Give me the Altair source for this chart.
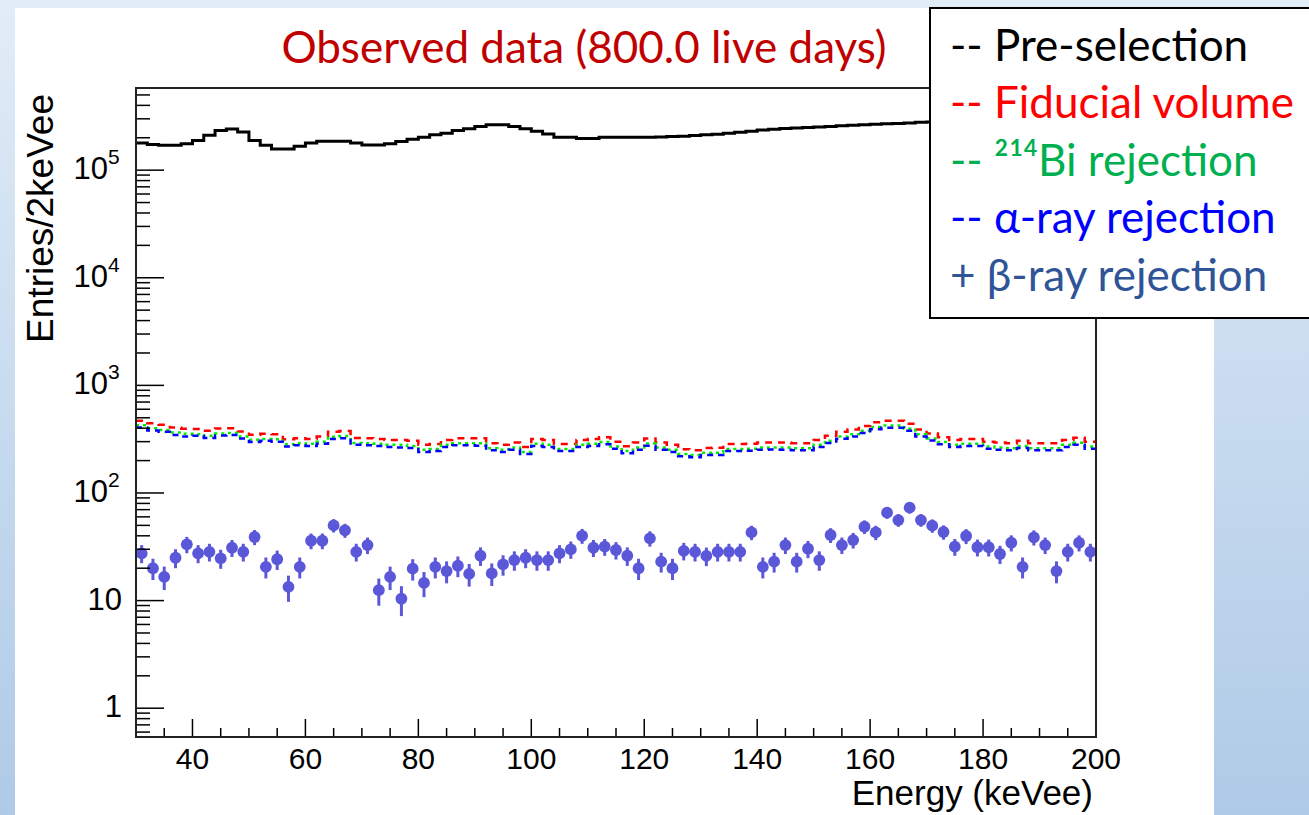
import altair as alt
import pandas as pd

# ---------------- data ----------------
energy = list(range(31, 200, 2))  # 2 keVee bin centres

pre_selection = [1.79e5, 1.73e5, 1.70e5, 1.70e5, 1.76e5, 1.89e5, 2.11e5, 2.33e5, 2.41e5, 2.26e5,
                 1.89e5, 1.70e5, 1.57e5, 1.57e5, 1.67e5, 1.79e5, 1.86e5, 1.86e5, 1.86e5, 1.79e5,
                 1.71e5, 1.71e5, 1.76e5, 1.85e5, 1.94e5, 2.02e5, 2.13e5, 2.20e5, 2.33e5, 2.43e5,
                 2.55e5, 2.64e5, 2.64e5, 2.55e5, 2.43e5, 2.30e5, 2.17e5, 2.02e5, 2.02e5, 1.97e5,
                 1.97e5, 2.02e5, 2.02e5, 2.02e5, 2.02e5, 2.02e5, 2.03e5, 2.05e5, 2.07e5, 2.10e5,
                 2.13e5, 2.16e5, 2.20e5, 2.25e5, 2.30e5, 2.36e5, 2.40e5, 2.44e5, 2.47e5, 2.49e5,
                 2.52e5, 2.55e5, 2.58e5, 2.61e5, 2.64e5, 2.67e5, 2.70e5, 2.72e5, 2.75e5, 2.78e5,
                 2.80e5, 2.82e5, 2.84e5, 2.86e5, 2.88e5, 2.90e5, 2.92e5, 2.94e5, 2.96e5, 2.98e5,
                 3.00e5, 3.02e5, 3.04e5, 3.06e5, 3.08e5]

fiducial = [470, 445, 430, 405, 395, 394, 378, 398, 400, 372, 348, 355, 352, 315, 322, 318, 334,
            370, 376, 325, 322, 318, 311, 311, 305, 280, 285, 311, 322, 322, 322, 290, 280, 294,
            267, 318, 311, 285, 285, 311, 318, 330, 300, 272, 294, 320, 294, 280, 255, 250, 262,
            263, 285, 285, 287, 294, 295, 294, 290, 290, 311, 340, 371, 390, 420, 455, 470, 470,
            440, 390, 357, 330, 311, 318, 318, 300, 294, 290, 305, 290, 290, 290, 311, 326, 300]

bi214 = [425, 400, 385, 365, 355, 352, 340, 357, 360, 335, 312, 318, 316, 283, 290, 286, 300,
         333, 338, 292, 290, 286, 280, 280, 274, 252, 256, 280, 290, 290, 290, 261, 252, 264,
         240, 286, 280, 256, 256, 280, 286, 297, 270, 245, 264, 288, 264, 252, 230, 225, 236,
         237, 256, 256, 258, 264, 265, 264, 261, 261, 280, 306, 334, 351, 378, 410, 423, 423,
         396, 351, 321, 297, 280, 286, 286, 270, 264, 261, 274, 261, 261, 261, 280, 293, 270]

alpha_rej = [405, 380, 370, 345, 335, 340, 325, 342, 345, 320, 298, 305, 300, 270, 277, 273, 287,
             318, 323, 280, 277, 273, 268, 265, 262, 240, 245, 268, 277, 277, 275, 250, 240, 252,
             230, 273, 268, 245, 245, 268, 273, 284, 258, 234, 252, 275, 252, 240, 219, 215, 225,
             226, 245, 245, 247, 252, 253, 252, 249, 249, 267, 292, 319, 335, 361, 391, 404, 404,
             378, 335, 307, 284, 268, 273, 273, 258, 252, 249, 262, 249, 249, 249, 268, 280, 258]

beta_rej = [27.5, 20, 16.6, 25, 33.3, 27.5, 28.4, 24.7, 31, 28.4, 39, 20.6, 24.2, 13.4, 20.6, 36,
            36, 50, 45, 28.4, 32.8, 12.5, 16.6, 10.4, 19.8, 14.6, 20.6, 18.8, 21.1, 17.7, 26.1,
            17.9, 21.7, 23.8, 25, 23.8, 23.8, 27.5, 29.9, 40, 31,
            31.7, 29.5, 26.1, 20, 37.9, 23, 20, 29, 28.4, 26, 28.4, 28.4, 28.4, 43, 20.6, 23,
            32.8, 23, 30.3, 23.8, 40.7, 32.8, 36.5, 48.6, 43, 65.6, 56, 73, 56, 49.7, 43.4, 31.7,
            39.8, 31.3, 31.3, 27.1, 34.5, 20.6, 38.7, 32.8, 18.8, 28.4, 34.5, 28.4]

x_major_ticks = [40, 60, 80, 100, 120, 140, 160, 180, 200]
x_tick_labels = ["40", "60", "80", "100", "120", "140", "160", "180", "200"]
x_minor_ticks = [35, 45, 50, 55, 65, 70, 75, 85, 90, 95, 105, 110, 115, 125, 130, 135,
                 145, 150, 155, 165, 170, 175, 185, 190, 195]
y_major_ticks = [1, 10, 100, 1000, 10000, 100000]
y_minor_ticks = [0.6, 0.7, 0.8, 0.9,
                 2, 3, 4, 5, 6, 7, 8, 9,
                 20, 30, 40, 50, 60, 70, 80, 90,
                 200, 300, 400, 500, 600, 700, 800, 900,
                 2000, 3000, 4000, 5000, 6000, 7000, 8000, 9000,
                 20000, 30000, 40000, 50000, 60000, 70000, 80000, 90000,
                 200000, 300000, 400000, 500000]
y_label_base = ["1", "10", "10", "10", "10", "10"]
y_label_exp = ["", "", "2", "3", "4", "5"]

x_title = "Energy (keVee)"
y_title = "Entries/2keVee"
title_text = "Observed data (800.0 live days)"
legend_labels = ["-- Pre-selection", "-- Fiducial volume", "-- \u00b2\u00b9\u2074Bi rejection",
                 "-- \u03b1-ray rejection", "+ \u03b2-ray rejection"]
legend_colors = ["#000000", "#ff0000", "#00b050", "#0000ff", "#2f5597"]

# ---------------- layout ----------------
W, H = 960, 649
PAD_L, PAD_T = 136, 88
TOTAL_W, TOTAL_H = 1309, 815

yscale = alt.Scale(type="log", domain=[0.54, 5.8e5], nice=False)
xscale = alt.Scale(domain=[30, 200], nice=False)
one = pd.DataFrame({"d": [0]})


def step_df(vals):
    edges = [e - 1 for e in energy] + [200]
    return pd.DataFrame({"E": edges, "N": list(vals) + [vals[-1]]})


# background gradient and white panel
bg = alt.Chart(one).mark_rect(
    fill=alt.LinearGradient(gradient="linear",
                            stops=[alt.GradientStop(color="#e1ecf7", offset=0),
                                   alt.GradientStop(color="#afcae7", offset=1)],
                            x1=0, x2=0, y1=0, y2=1)
).encode(x=alt.value(-PAD_L), x2=alt.value(TOTAL_W - PAD_L),
         y=alt.value(-PAD_T), y2=alt.value(TOTAL_H - PAD_T))

panel = alt.Chart(one).mark_rect(fill="white").encode(
    x=alt.value(15 - PAD_L), x2=alt.value(1214 - PAD_L),
    y=alt.value(8 - PAD_T), y2=alt.value(TOTAL_H - PAD_T))


def hist(vals, color, dash=None, width=2.5):
    kw = dict(interpolate="step-after", color=color, strokeWidth=width)
    if dash:
        kw["strokeDash"] = dash
    return alt.Chart(step_df(vals)).mark_line(**kw).encode(
        x=alt.X("E:Q", scale=xscale, axis=None),
        y=alt.Y("N:Q", scale=yscale, axis=None))


pre = hist(pre_selection, "black", width=3)
fid_line = hist(fiducial, "#ff0000", [7, 6])
bi_line = hist(bi214, "#00ee00", [3, 4])
alpha_line = hist(alpha_rej, "#0000ff", [6, 5])

pts_df = pd.DataFrame({"E": energy, "N": beta_rej})
err = alt.Chart(pts_df).transform_calculate(
    lo="datum.N - sqrt(datum.N)", hi="datum.N + sqrt(datum.N)"
).mark_rule(color="#5b57d9", strokeWidth=3).encode(
    x=alt.X("E:Q", scale=xscale, axis=None),
    y=alt.Y("lo:Q", scale=yscale, axis=None), y2="hi:Q")
pts = alt.Chart(pts_df).mark_circle(size=140, color="#5b57d9", opacity=1).encode(
    x=alt.X("E:Q", scale=xscale, axis=None),
    y=alt.Y("N:Q", scale=yscale, axis=None))

# inward ticks (ROOT style)
ytick_major = alt.Chart(pd.DataFrame({"v": y_major_ticks})).mark_rule(
    color="black", strokeWidth=1.5).encode(
    y=alt.Y("v:Q", scale=yscale, axis=None), x=alt.value(0), x2=alt.value(28))
ytick_minor = alt.Chart(pd.DataFrame({"v": y_minor_ticks})).mark_rule(
    color="black", strokeWidth=1.5).encode(
    y=alt.Y("v:Q", scale=yscale, axis=None), x=alt.value(0), x2=alt.value(14))
xtick_major = alt.Chart(pd.DataFrame({"v": x_major_ticks})).mark_rule(
    color="black", strokeWidth=1.5).encode(
    x=alt.X("v:Q", scale=xscale, axis=None), y=alt.value(H), y2=alt.value(H - 18))
xtick_minor = alt.Chart(pd.DataFrame({"v": x_minor_ticks})).mark_rule(
    color="black", strokeWidth=1.5).encode(
    x=alt.X("v:Q", scale=xscale, axis=None), y=alt.value(H), y2=alt.value(H - 9))

# tick labels
xlab = alt.Chart(pd.DataFrame({"v": x_major_ticks, "t": x_tick_labels})).mark_text(
    align="center", baseline="middle", font="Liberation Sans", fontSize=30, color="black"
).encode(x=alt.X("v:Q", scale=xscale, axis=None), y=alt.value(H + 23), text="t:N")

ylab_df = pd.DataFrame({"v": y_major_ticks, "base": y_label_base, "exp": y_label_exp})
ylab_plain = alt.Chart(ylab_df).transform_filter("datum.exp == ''").mark_text(
    align="right", baseline="middle", font="Liberation Sans", fontSize=31, color="black"
).encode(y=alt.Y("v:Q", scale=yscale, axis=None), x=alt.value(-14), text="base:N")
ylab_base = alt.Chart(ylab_df).transform_filter("datum.exp != ''").mark_text(
    align="right", baseline="middle", font="Liberation Sans", fontSize=31, color="black"
).encode(y=alt.Y("v:Q", scale=yscale, axis=None), x=alt.value(-28), text="base:N")
ylab_exp = alt.Chart(ylab_df).transform_filter("datum.exp != ''").mark_text(
    align="left", baseline="middle", font="Liberation Sans", fontSize=21, color="black", dy=-12
).encode(y=alt.Y("v:Q", scale=yscale, axis=None), x=alt.value(-28), text="exp:N")

# axis titles
xtitle = alt.Chart(one).mark_text(
    align="right", baseline="alphabetic", font="Liberation Sans", fontSize=35, color="black"
).encode(x=alt.value(957), y=alt.value(H + 68), text=alt.value(x_title))
ytitle = alt.Chart(one).mark_text(
    align="right", baseline="alphabetic", font="Liberation Sans", fontSize=37, color="black",
    angle=270
).encode(x=alt.value(-83), y=alt.value(6), text=alt.value(y_title))

frame = alt.Chart(one).mark_rect(fillOpacity=0, stroke="#222222", strokeWidth=2).encode(
    x=alt.value(0), x2=alt.value(W), y=alt.value(0), y2=alt.value(H))

title = alt.Chart(one).mark_text(
    align="center", baseline="middle", font="Lato", fontSize=44, color="#c00000"
).encode(x=alt.value(584 - PAD_L), y=alt.value(50 - PAD_T), text=alt.value(title_text))

legend_box = alt.Chart(one).mark_rect(fill="white", stroke="black", strokeWidth=2).encode(
    x=alt.value(930 - PAD_L), x2=alt.value(TOTAL_W - PAD_L + 10),
    y=alt.value(8 - PAD_T), y2=alt.value(318 - PAD_T))

legend_rows = [48, 105, 163, 220, 278]
legend_layers = []
for lab, col, yy in zip(legend_labels, legend_colors, legend_rows):
    legend_layers.append(alt.Chart(one).mark_text(
        align="left", baseline="middle", font="Lato", fontSize=44, color=col
    ).encode(x=alt.value(950 - PAD_L), y=alt.value(yy - PAD_T), text=alt.value(lab)))

chart = alt.layer(
    bg, panel, pre, fid_line, bi_line, alpha_line, err, pts,
    ytick_major, ytick_minor, xtick_major, xtick_minor,
    xlab, ylab_plain, ylab_base, ylab_exp, xtitle, ytitle,
    frame, title, legend_box, *legend_layers
).properties(
    width=W, height=H,
    autosize=alt.AutoSizeParams(type="none"),
    padding={"left": PAD_L, "top": PAD_T, "right": TOTAL_W - PAD_L - W,
             "bottom": TOTAL_H - PAD_T - H},
    background="#c9dcf0",
).configure_view(stroke=None)

chart.save("out.html", embed_options={"renderer": "svg", "actions": False})
